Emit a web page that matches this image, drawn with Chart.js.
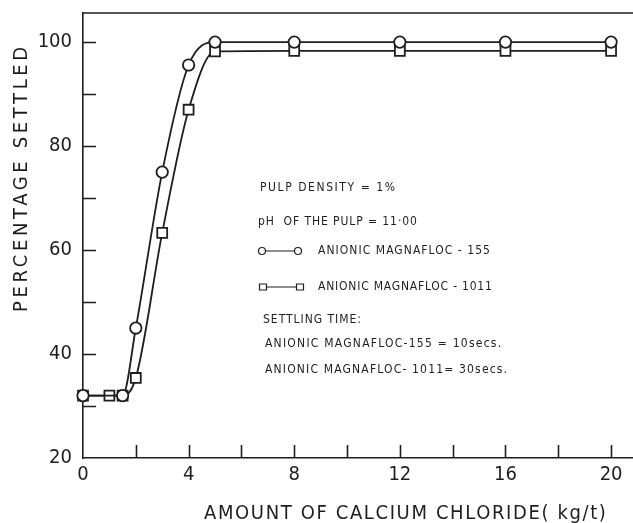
<!DOCTYPE html>
<html>
<head>
<meta charset="utf-8">
<script src="https://cdn.jsdelivr.net/npm/chart.js@4.4.1/dist/chart.umd.min.js"></script>
<style>
  html, body { margin: 0; padding: 0; background: #fff; overflow: hidden; }
  #wrap { width: 633px; height: 523px; position: relative; }
</style>
</head>
<body>
<div id="wrap"><canvas id="myChart"></canvas></div>
<script>
// calcium chloride dose (kg/t) and percentage settled
const dose155 = [0, 1.5, 2, 3, 4, 5, 8, 12, 16, 20];
const settled155 = [32, 32, 45, 75, 95.6, 100, 100, 100, 100, 100];
const dose1011 = [0, 1, 1.5, 2, 3, 4, 5, 8, 12, 16, 20];
const settled1011 = [32, 32, 32, 35.4, 63.3, 87, 98.2, 98.3, 98.3, 98.3, 98.3];

const xTickLabels = [0, 4, 8, 12, 16, 20];
const yTickLabels = [20, 40, 60, 80, 100];

const xTitle = "AMOUNT OF CALCIUM CHLORIDE( kg/t)";
const yTitle = "PERCENTAGE SETTLED";
const notes = [
  "PULP DENSITY = 1%",
  "pH  OF THE PULP = 11·00",
  "ANIONIC MAGNAFLOC - 155",
  "ANIONIC MAGNAFLOC - 1011",
  "SETTLING TIME:",
  "ANIONIC MAGNAFLOC-155 = 10secs.",
  "ANIONIC MAGNAFLOC- 1011= 30secs."
];

const ink = "#1e1e1e";
const axisFont = "'DejaVu Sans Condensed', 'DejaVu Sans', sans-serif";

function pairs(xs, ys) {
  return xs.map((x, i) => ({ x: x, y: ys[i] }));
}

// draws text stretched with letter spacing to a given width
function spacedText(ctx, text, x, y, width) {
  ctx.letterSpacing = "0px";
  const w = ctx.measureText(text).width;
  const extra = (width - w) / Math.max(text.length - 1, 1);
  ctx.letterSpacing = extra.toFixed(2) + "px";
  ctx.fillText(text, x, y);
  ctx.letterSpacing = "0px";
}

// no extra room for half labels at the ends of the axes
function noPad(s) {
  s.paddingLeft = 0;
  s.paddingRight = 0;
  s.paddingTop = 0;
  s.paddingBottom = 0;
}

const decor = {
  id: "decor",
  beforeDatasetsDraw(chart) {
    const { ctx, chartArea: a, scales } = chart;
    const x = scales.x, y = scales.y;
    ctx.save();
    ctx.strokeStyle = ink;
    ctx.lineWidth = 1.6;
    ctx.beginPath();
    // top frame line
    ctx.moveTo(a.left, a.top);
    ctx.lineTo(a.right, a.top);
    // inward tick marks
    x.ticks.forEach(t => {
      if (t.value === x.min) return;
      const px = Math.round(x.getPixelForValue(t.value)) + 0.5;
      ctx.moveTo(px, a.bottom);
      ctx.lineTo(px, a.bottom - 13);
    });
    y.ticks.forEach(t => {
      if (t.value === y.min) return;
      const py = Math.round(y.getPixelForValue(t.value)) + 0.5;
      ctx.moveTo(a.left, py);
      ctx.lineTo(a.left + 13, py);
    });
    ctx.stroke();
    ctx.restore();
  },
  afterDraw(chart) {
    const { ctx, scales } = chart;
    const y = scales.y;
    ctx.save();
    ctx.fillStyle = ink;
    ctx.strokeStyle = ink;

    // axis titles
    ctx.font = "20px " + axisFont;
    ctx.textBaseline = "middle";
    ctx.textAlign = "left";
    ctx.save();
    ctx.translate(22, y.getPixelForValue(73.5));
    ctx.rotate(-Math.PI / 2);
    spacedText(ctx, yTitle, -132, 0, 265);
    ctx.restore();
    ctx.textBaseline = "alphabetic";
    spacedText(ctx, xTitle, 204, 519, 402);

    // notes box
    ctx.font = "12px " + axisFont;
    ctx.textBaseline = "middle";
    spacedText(ctx, notes[0], 260, 188, 135);
    spacedText(ctx, notes[1], 258, 222, 159);
    spacedText(ctx, notes[2], 318, 251, 172);
    spacedText(ctx, notes[3], 318, 287, 174);
    spacedText(ctx, notes[4], 263, 320, 98);
    spacedText(ctx, notes[5], 265, 344, 236);
    spacedText(ctx, notes[6], 265, 370, 242);

    // legend keys
    ctx.lineWidth = 1.2;
    ctx.beginPath();
    ctx.moveTo(262, 251); ctx.lineTo(298, 251);
    ctx.moveTo(263, 287); ctx.lineTo(300, 287);
    ctx.stroke();
    ctx.fillStyle = "#fff";
    [262, 298].forEach(cx => {
      ctx.beginPath();
      ctx.arc(cx, 251, 3.5, 0, Math.PI * 2);
      ctx.fill(); ctx.stroke();
    });
    [263, 300].forEach(cx => {
      ctx.beginPath();
      ctx.rect(cx - 3.5, 287 - 3, 7, 6);
      ctx.fill(); ctx.stroke();
    });
    ctx.restore();
  }
};

document.addEventListener("DOMContentLoaded", function () {
  const ctx = document.getElementById("myChart").getContext("2d");
  new Chart(ctx, {
    type: "line",
    data: {
      datasets: [
        {
          label: "ANIONIC MAGNAFLOC - 155",
          data: pairs(dose155, settled155),
          borderColor: ink,
          borderWidth: 1.8,
          cubicInterpolationMode: "monotone",
          pointStyle: "circle",
          pointRadius: 5.7,
          pointBorderWidth: 1.8,
          pointBorderColor: ink,
          pointBackgroundColor: "#fff",
          fill: false,
          clip: false
        },
        {
          label: "ANIONIC MAGNAFLOC - 1011",
          data: pairs(dose1011, settled1011),
          borderColor: ink,
          borderWidth: 1.8,
          cubicInterpolationMode: "monotone",
          pointStyle: "rect",
          pointRadius: 7,
          pointBorderWidth: 1.8,
          pointBorderColor: ink,
          pointBackgroundColor: "#fff",
          fill: false,
          clip: false
        }
      ]
    },
    options: {
      responsive: true,
      maintainAspectRatio: false,
      animation: false,
      layout: { autoPadding: false, padding: { top: 13, right: 0, bottom: 0, left: 0 } },
      plugins: {
        legend: { display: false },
        tooltip: { enabled: false }
      },
      scales: {
        x: {
          type: "linear",
          min: 0,
          max: 20.83,
          grid: { display: false, drawTicks: false },
          border: { display: true, color: ink, width: 1.6 },
          ticks: {
            stepSize: 2,
            includeBounds: false,
            autoSkip: false,
            maxRotation: 0,
            padding: 5,
            color: ink,
            font: { family: axisFont, size: 20 },
            callback: v => (xTickLabels.includes(v) ? String(v) : "")
          },
          afterFit: s => { s.height = 65; noPad(s); }
        },
        y: {
          min: 20,
          max: 105.6,
          grid: { display: false, drawTicks: false },
          border: { display: true, color: ink, width: 1.6 },
          ticks: {
            stepSize: 10,
            includeBounds: false,
            autoSkip: false,
            padding: 11,
            color: ink,
            font: { family: axisFont, size: 20 },
            callback: v => (yTickLabels.includes(v) ? String(v) : "")
          },
          afterFit: s => { s.width = 83; noPad(s); }
        }
      }
    },
    plugins: [decor]
  });
});
</script>
</body>
</html>
